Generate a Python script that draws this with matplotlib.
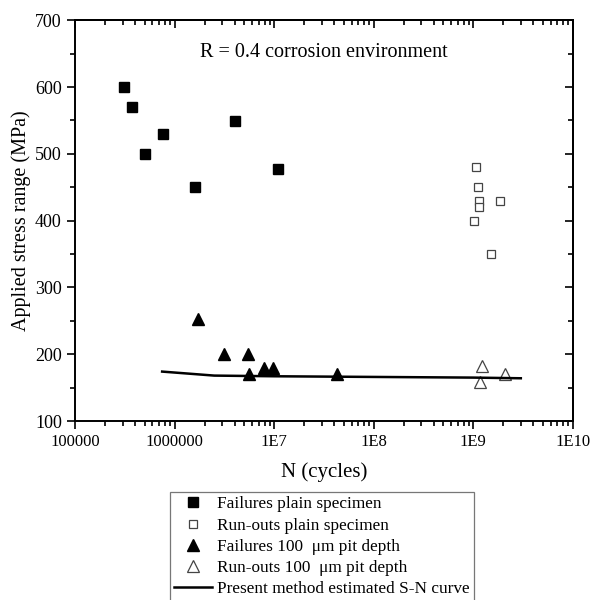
import matplotlib
matplotlib.use("Agg")
import matplotlib.pyplot as plt
from matplotlib.ticker import LogLocator, MultipleLocator, NullFormatter

plt.rcParams['font.family'] = ['Liberation Serif', 'DejaVu Serif']

# failures, plain specimen
fail_plain_n = [3.1e5, 3.7e5, 5.0e5, 7.6e5, 1.6e6, 4.0e6, 1.1e7]
fail_plain_s = [600, 570, 500, 530, 450, 549, 478]

# run-outs, plain specimen
run_plain_n = [1.07e9, 1.12e9, 1.15e9, 1.15e9, 1.02e9, 1.86e9, 1.52e9]
run_plain_s = [480, 450, 430, 420, 400, 430, 350]

# failures, 100 um pit
fail_pit_n = [1.7e6, 3.1e6, 5.4e6, 5.6e6, 7.9e6, 9.8e6, 4.3e7]
fail_pit_s = [252, 200, 200, 171, 179, 180, 170]

# run-outs, 100 um pit
run_pit_n = [1.23e9, 1.17e9, 2.1e9]
run_pit_s = [182, 158, 170]

# estimated S-N curve
curve_n = [7.5e5, 2.5e6, 1e7, 1e8, 1e9, 3e9]
curve_s = [174, 168, 167, 166, 165, 164]

xticks = [1e5, 1e6, 1e7, 1e8, 1e9, 1e10]
xticklabels = ["100000", "1000000", "1E7", "1E8", "1E9", "1E10"]

fig = plt.figure(figsize=(5.92, 6.0), dpi=100)
ax = fig.add_axes([0.1267, 0.2983, 0.841, 0.668])

ax.plot(fail_plain_n, fail_plain_s, 's', color='black', ms=7,
        label='Failures plain specimen')
ax.plot(run_plain_n, run_plain_s, 's', mfc='white', mec='#444444', mew=0.9, ms=6,
        label='Run-outs plain specimen')
ax.plot(fail_pit_n, fail_pit_s, '^', color='black', ms=8,
        label='Failures 100  \u03bcm pit depth')
ax.plot(run_pit_n, run_pit_s, '^', mfc='white', mec='#444444', mew=0.9, ms=8,
        label='Run-outs 100  \u03bcm pit depth')
ax.plot(curve_n, curve_s, '-', color='black', lw=1.8,
        label='Present method estimated S-N curve')

ax.set_xscale('log')
ax.set_xlim(1e5, 1e10)
ax.set_ylim(100, 700)
ax.set_xticks(xticks)
ax.set_xticklabels(xticklabels)
ax.xaxis.set_minor_locator(LogLocator(base=10, subs=range(2, 10)))
ax.xaxis.set_minor_formatter(NullFormatter())
ax.yaxis.set_major_locator(MultipleLocator(100))
ax.yaxis.set_minor_locator(MultipleLocator(50))

ax.tick_params(which='both', direction='out', width=1.2, top=False, right=False)
ax.tick_params(axis='x', labelsize=12)
ax.tick_params(axis='y', labelsize=13)
ax.tick_params(which='major', length=6)
ax.tick_params(which='minor', length=3.5)
for sp in ax.spines.values():
    sp.set_linewidth(1.4)

# mirrored ticks pointing inward on top and right
top = ax.secondary_xaxis('top')
top.set_xticks(xticks)
top.xaxis.set_minor_locator(LogLocator(base=10, subs=range(2, 10)))
top.xaxis.set_minor_formatter(NullFormatter())
top.tick_params(which='both', direction='in', labeltop=False, width=1.2)
top.tick_params(which='major', length=6)
top.tick_params(which='minor', length=3.5)
top.set_xticklabels([])
right = ax.secondary_yaxis('right')
right.yaxis.set_major_locator(MultipleLocator(100))
right.yaxis.set_minor_locator(MultipleLocator(50))
right.tick_params(which='both', direction='in', labelright=False, width=1.2)
right.tick_params(which='major', length=6)
right.tick_params(which='minor', length=3.5)
right.spines['right'].set_linewidth(1.4)
top.spines['top'].set_linewidth(1.4)

ax.set_xlabel('N (cycles)', fontsize=15, labelpad=9)
ax.set_ylabel('Applied stress range (MPa)', fontsize=14.5, labelpad=3)
ax.text(0.5, 0.92, 'R = 0.4 corrosion environment', transform=ax.transAxes,
        ha='center', va='center', fontsize=14.5)

leg = fig.legend(loc='upper left', bbox_to_anchor=(170 / 592, 1 - 492 / 600),
                 fontsize=12.4, frameon=True, fancybox=False, edgecolor='#555555',
                 handlelength=2.2, handletextpad=0.3, labelspacing=0.3,
                 borderpad=0.25, borderaxespad=0)
leg.get_frame().set_linewidth(0.9)

fig.savefig('out.png', dpi=100)
